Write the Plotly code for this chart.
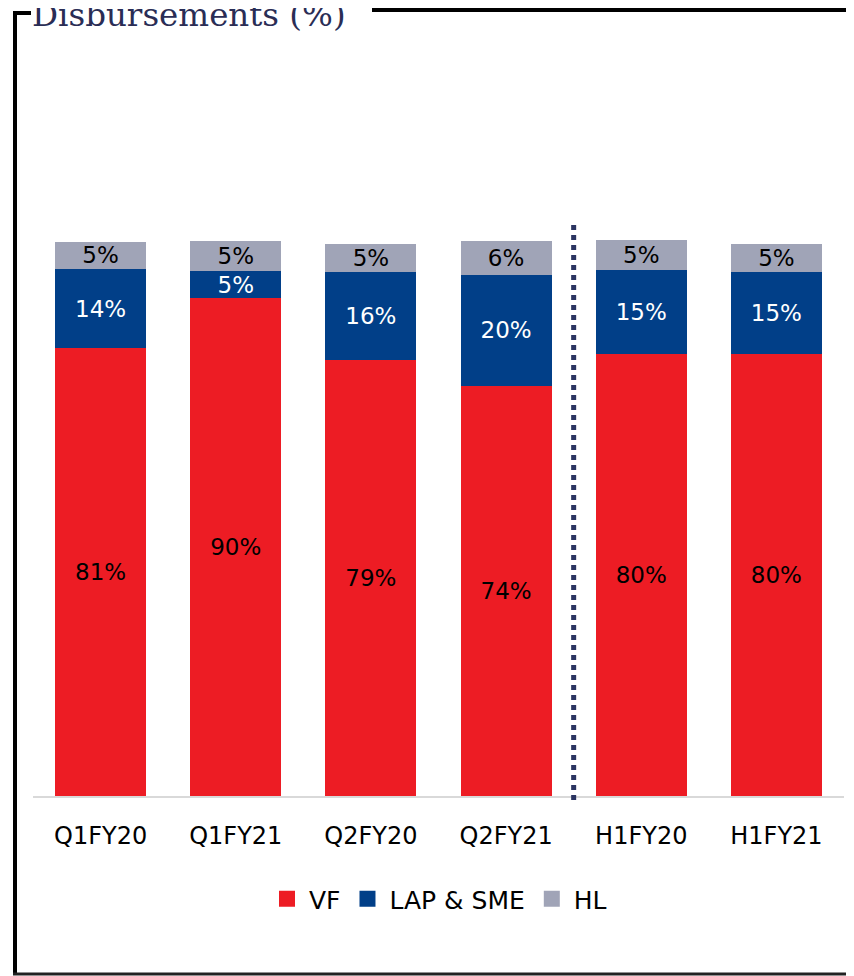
import plotly.graph_objects as go

categories = ["Q1FY20", "Q1FY21", "Q2FY20", "Q2FY21", "H1FY20", "H1FY21"]
vf = [80.7, 89.7, 78.6, 73.9, 79.6, 79.6]
lap_sme = [14.2, 4.9, 15.9, 20.0, 15.1, 14.8]
hl = [5.0, 5.4, 5.0, 6.1, 5.4, 5.0]
series_names = ["VF", "LAP & SME", "HL"]

# page body adds an 8px margin; work in reference pixel coords and shift
OFF = 8
W, H = 854 - OFF, 976 - OFF
PL, PR, PT, PB = 33, 844, 186, 796  # plot area in reference pixels
ML, MT = PL - OFF, PT - OFF
MR, MB = W - (PR - OFF), H - (PB - OFF)
PW, PH = PR - PL, PB - PT


def pxx(x):
    return (x - PL) / PW


def pxy(y):
    return (PB - y) / PH


RED = "#ED1C24"
BLUE = "#013F88"
GRAY = "#A0A4B7"
NAVY = "#2B3461"
FONT = "DejaVu Sans"

fig = go.Figure()
for name, vals, col, tcol in [
    (series_names[0], vf, RED, "#000000"),
    (series_names[1], lap_sme, BLUE, "#FFFFFF"),
    (series_names[2], hl, GRAY, "#000000"),
]:
    fig.add_trace(go.Bar(
        x=categories, y=vals, name=name, marker=dict(color=col, line=dict(width=0)),
        texttemplate="%{y:.0f}%", textposition="inside", insidetextanchor="middle",
        textfont=dict(family=FONT, size=23, color=tcol), constraintext="none",
        showlegend=False, hoverinfo="skip",
    ))
    fig.add_trace(go.Scatter(
        x=[None], y=[None], mode="markers", name=name,
        marker=dict(symbol="square", size=16, color=col), showlegend=True,
    ))

shapes = [
    dict(type="line", xref="x", yref="paper", x0=3.5, x1=3.5, y0=pxy(800), y1=pxy(220),
         line=dict(color=NAVY, width=5, dash="dot")),
    dict(type="line", xref="paper", yref="paper", x0=pxx(15), x1=pxx(15), y0=pxy(11), y1=pxy(975),
         line=dict(color="#000000", width=4)),
    dict(type="line", xref="paper", yref="paper", x0=pxx(13), x1=pxx(31), y0=pxy(13), y1=pxy(13),
         line=dict(color="#000000", width=4)),
    dict(type="line", xref="paper", yref="paper", x0=pxx(372), x1=pxx(858), y0=pxy(10), y1=pxy(10),
         line=dict(color="#000000", width=4)),
    dict(type="line", xref="paper", yref="paper", x0=pxx(13), x1=pxx(858), y0=pxy(974), y1=pxy(974),
         line=dict(color="#222222", width=3)),
]

fig.update_layout(
    width=W, height=H, margin=dict(l=ML, r=MR, t=MT, b=MB, pad=0),
    barmode="stack", bargap=0.327,
    plot_bgcolor="white", paper_bgcolor="white",
    uniformtext=dict(minsize=23, mode="show"),
    font=dict(family=FONT, size=22, color="#000000"),
    xaxis=dict(showline=True, linecolor="#D9D9D9", linewidth=2, ticks="", showgrid=False,
               tickfont=dict(family=FONT, size=24, color="#000000"), ticklabelstandoff=17),
    yaxis=dict(range=[0, PH / 5.55], visible=False, showgrid=False),
    legend=dict(orientation="h", x=0.5, xanchor="center", y=pxy(899), yanchor="middle",
                traceorder="normal", itemwidth=34,
                font=dict(family=FONT, size=25, color="#000000"), bgcolor="rgba(0,0,0,0)"),
    shapes=shapes,
    annotations=[dict(text="Disbursements (%)", xref="paper", yref="paper", x=pxx(30), y=pxy(15),
                      xanchor="left", yanchor="middle", showarrow=False,
                      font=dict(family="DejaVu Serif", size=32.5, color="#2A2D55"))],
)

fig.write_html("out.html")
